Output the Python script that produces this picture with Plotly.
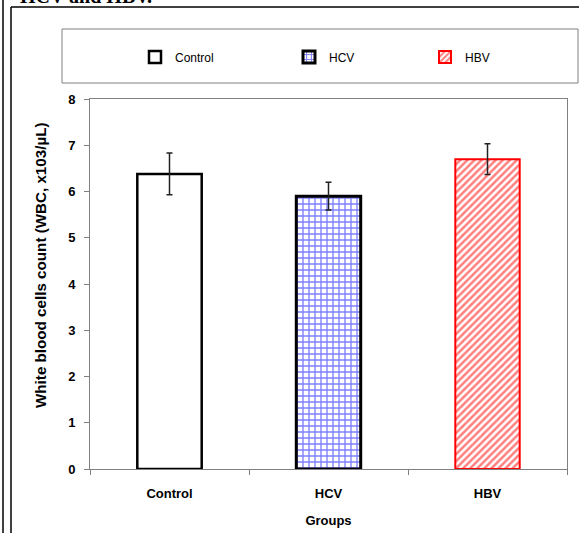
import plotly.graph_objects as go

# ---- data ----
groups = ["Control", "HCV", "HBV"]
wbc_mean = [6.38, 5.90, 6.70]
wbc_err = [0.45, 0.30, 0.33]
y_ticks = [0, 1, 2, 3, 4, 5, 6, 7, 8]

# plot-area geometry in pixels (for paper-coordinate conversion of decorations)
W, H = 579, 533
L, R, T, B = 90, 12, 99, 64
pw, ph = W - L - R, H - T - B


def px(x):
    return (x - L) / pw


def py(y):
    return (H - B - y) / ph


font_family = "Liberation Sans, Arial, sans-serif"

styles = [
    dict(color="white", line=dict(color="black", width=2.5), pattern=None),
    dict(color="white", line=dict(color="black", width=3),
         pattern=dict(shape="+", fgcolor="#0000ff", bgcolor="white", size=6, solidity=0.4)),
    dict(color="white", line=dict(color="#ff0000", width=2),
         pattern=dict(shape="/", fgcolor="#ff0000", bgcolor="white", size=5, solidity=0.5)),
]
legend_ids = ["legend", "legend2", "legend3"]
legend_x = [135, 289, 425]

fig = go.Figure()
for i, g in enumerate(groups):
    st = styles[i]
    marker = dict(color=st["color"], line=st["line"])
    if st["pattern"]:
        marker["pattern"] = st["pattern"]
    fig.add_trace(go.Bar(
        x=[g], y=[wbc_mean[i]], name=g, width=0.405,
        marker=marker, showlegend=True,
        error_y=dict(type="data", array=[wbc_err[i]], visible=True,
                     color="#222222", thickness=1.5, width=3),
        legend=legend_ids[i],
    ))

leg_common = dict(orientation="h", yanchor="middle", y=py(57), xanchor="left",
                  bgcolor="rgba(0,0,0,0)", borderwidth=0,
                  font=dict(family=font_family, size=12, color="black"))
fig.update_layout(
    showlegend=True,
    legend=dict(x=px(legend_x[0]), **leg_common),
    legend2=dict(x=px(legend_x[1]), **leg_common),
    legend3=dict(x=px(legend_x[2]), **leg_common),
)

axis_line = "#808080"
fig.update_layout(
    width=W, height=H,
    margin=dict(l=L, r=R, t=T, b=B, autoexpand=False),
    paper_bgcolor="white", plot_bgcolor="white",
    barmode="overlay",
    font=dict(family=font_family, color="black"),
    xaxis=dict(
        categoryorder="array", categoryarray=groups, range=[-0.5, 2.5],
        showline=True, linecolor=axis_line, linewidth=1, mirror=True,
        ticks="outside", tickson="boundaries", ticklen=5, tickcolor=axis_line,
        showgrid=False, zeroline=False, ticklabelstandoff=12, automargin=False,
        tickfont=dict(family=font_family, size=13, color="black", weight="bold"),
        title=dict(text="<b>Groups</b>", font=dict(family=font_family, size=13, color="black"),
                   standoff=16),
    ),
    yaxis=dict(
        range=[0, 8], tickvals=y_ticks,
        showline=True, linecolor=axis_line, linewidth=1, mirror=True,
        ticks="outside", ticklen=5, tickcolor=axis_line,
        showgrid=False, zeroline=False, ticklabelstandoff=6, automargin=False,
        tickfont=dict(family=font_family, size=13, color="black", weight="bold"),
    ),
)

# y-axis title placed as rotated text (sits above the plot's vertical centre)
fig.add_annotation(text="<b>White blood cells count (WBC, x103/µL)</b>",
                   xref="paper", yref="paper", x=px(40), y=py(265),
                   xanchor="center", yanchor="middle", textangle=-90, showarrow=False,
                   font=dict(family=font_family, size=15.2, color="black"))

# decorations: outer frame lines and legend box
shapes = [
    dict(type="line", xref="paper", yref="paper", x0=px(3), x1=px(3), y0=py(0), y1=py(H),
         line=dict(color="black", width=1.5)),
    dict(type="line", xref="paper", yref="paper", x0=px(11), x1=px(11), y0=py(7), y1=py(H),
         line=dict(color="black", width=1.5)),
    dict(type="line", xref="paper", yref="paper", x0=px(11), x1=px(W), y0=py(7), y1=py(7),
         line=dict(color="black", width=1.5)),
    dict(type="rect", xref="paper", yref="paper", x0=px(62), x1=px(578), y0=py(29), y1=py(83),
         line=dict(color="#808080", width=1), fillcolor="rgba(0,0,0,0)"),
]
fig.update_layout(shapes=shapes)

# cut-off caption at the very top of the image
fig.add_annotation(text="<b>HCV and HBV.</b>", xref="paper", yref="paper",
                   x=px(18), y=py(9.5), xanchor="left", yanchor="bottom", showarrow=False,
                   font=dict(family="Liberation Serif, Times New Roman, serif", size=20, color="black"))

fig.write_html("out.html", config={"displayModeBar": False},
               post_script="document.body.style.margin='0';")
